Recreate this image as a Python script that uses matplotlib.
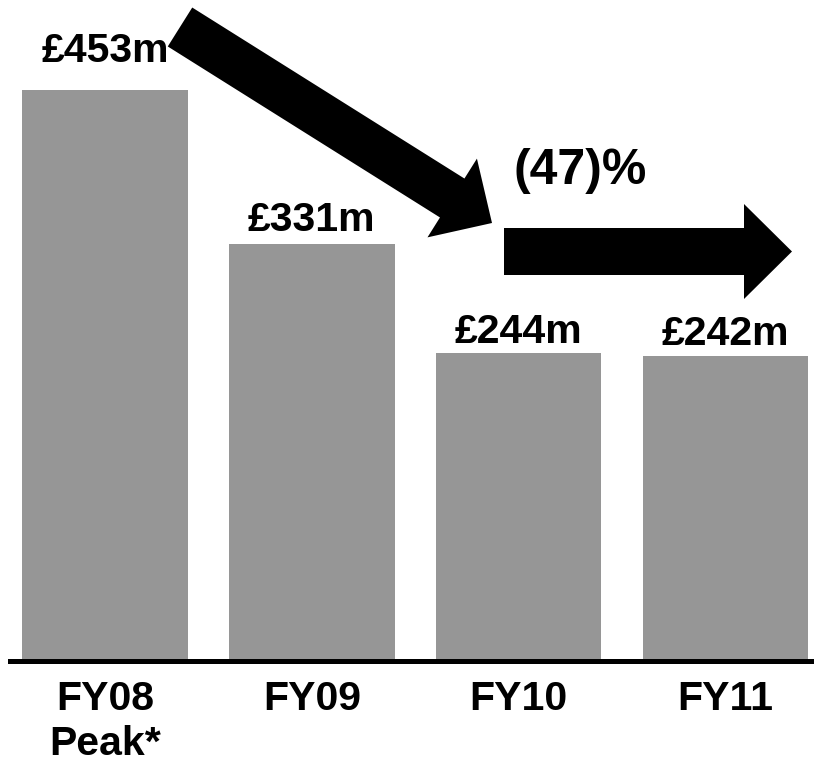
import numpy as np
import matplotlib
matplotlib.use('Agg')
import matplotlib.pyplot as plt
from matplotlib.patches import FancyArrow

# chart data
years  = ["FY08\nPeak*", "FY09", "FY10", "FY11"]
values = [453, 331, 244, 242]
labels = ["£453m", "£331m", "£244m", "£242m"]
change = "(47)%"

# label gap above each bar, in points (FY08 sits higher in the original)
label_pad = [20, 9, 7, 8]

W, H = 814, 767
fig = plt.figure(figsize=(W / 100, H / 100), dpi=100)
plt.rcParams['font.family'] = ['Liberation Sans', 'DejaVu Sans']

# main axes: bottom edge is the baseline rule
base_px = 660.5
left_px = 10
ax = fig.add_axes([left_px / W, (H - base_px) / H, (W - left_px) / W, base_px / H])

x = np.arange(len(values))
ax.bar(x, values, width=0.8, color='#969696', zorder=1)
ax.set_xlim(-0.459, 3.428)
ax.set_ylim(0, 524.4)

for xi, v, lab, pad in zip(x, values, labels, label_pad):
    ax.annotate(lab, (xi, v), xytext=(0, pad), textcoords='offset points',
                ha='center', va='baseline', fontsize=29.5, fontweight='bold')

ax.set_xticks(x)
ax.set_xticklabels(years, fontsize=29.5, fontweight='bold', linespacing=1.25)
ax.tick_params(axis='x', length=0, pad=14)
ax.set_yticks([])
for s in ['top', 'left', 'right']:
    ax.spines[s].set_visible(False)
ax.spines['bottom'].set_linewidth(3.6)
ax.spines['bottom'].set_color('black')

# overlay axes in pixel units for the arrows and the change text
ov = fig.add_axes([0, 0, 1, 1], zorder=5)
ov.set_xlim(0, W)
ov.set_ylim(H, 0)
ov.axis('off')
ov.patch.set_alpha(0)

ov.add_patch(FancyArrow(180, 27, 312, 196, width=46, head_width=93, head_length=47,
                        length_includes_head=True, color='black', lw=0))
ov.add_patch(FancyArrow(504, 251.5, 288, 0, width=47, head_width=95, head_length=48,
                        length_includes_head=True, color='black', lw=0))
ov.text(580, 171, change, ha='center', va='center', fontsize=36, fontweight='bold')

fig.savefig('out.png', dpi=100)
